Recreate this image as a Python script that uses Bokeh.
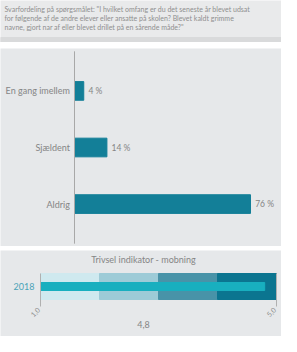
import math
from bokeh.plotting import figure
from bokeh.layouts import column
from bokeh.models import FactorRange, Range1d, Spacer
from bokeh.core.properties import value
from bokeh.embed import file_html
from bokeh.resources import INLINE

# ---- data ----
question_lines = [
    'Svarfordeling på spørgsmålet: "I hvilket omfang er du det seneste år blevet udsat',
    'for følgende af de andre elever eller ansatte på skolen? Blevet kaldt grimme',
    'navne, gjort nar af eller blevet drillet på en sårende måde?"',
]
categories = ["Aldrig", "Sjældent", "En gang imellem"]
percents = [76, 14, 4]

bullet_title = "Trivsel indikator - mobning"
bullet_year = "2018"
band_starts = [1, 2, 3, 4]
band_ends = [2, 3, 4, 5]
band_colors = ["#cfe9ef", "#9dcbd7", "#4893a8", "#0b7590"]
score = 4.8
scale_ticks = [1, 5]
scale_tick_labels = ["1,0", "5,0"]

FONT = "Lato"
W = 281
PANEL = "#e6e8ea"
TXT = "#8f8f8f"
LBL = "#858585"


def base(h, xr, yr, bg):
    f = figure(width=W, height=h, output_backend="svg", toolbar_location=None,
               x_range=xr, y_range=yr, min_border=0,
               background_fill_color=bg, border_fill_color=bg)
    f.axis.visible = False
    f.grid.visible = False
    f.outline_line_color = None
    return f


# ---- question box ----
tb = base(42, Range1d(0, W), Range1d(0, 42), "#e9eaeb")
tb.quad(left=0, right=W, bottom=0, top=5, color="#d9dadb")
tb.text(x=[4, 4, 4], y=[34, 25, 16], text=question_lines, text_font=value(FONT),
        text_font_size="7px", text_color=TXT, text_baseline="middle")

# ---- bar chart ----
BH = 198
left_px = 74
ppu = 176 / 76.0  # pixels per percent
yr = FactorRange(*categories, range_padding=0.25, range_padding_units="absolute")
bp = base(BH, Range1d(-left_px / ppu, (W - left_px) / ppu), yr, PANEL)
bp.hbar(y=categories, right=percents, left=0, height=0.33, color="#137f98")
bp.text(x=[v + 2 for v in percents], y=categories, text=[f"{v} %" for v in percents],
        text_font=value(FONT), text_font_size="8.5px", text_color=LBL,
        text_baseline="middle")
bp.text(x=[-2] * len(categories), y=categories, text=categories,
        text_font=value(FONT), text_font_size="9px", text_color=LBL,
        text_baseline="middle", text_align="right")
bp.segment(x0=[0], x1=[0], y0=[(categories[0], -0.7)], y1=[(categories[-1], 0.7)],
           line_color="#a8a8a8", line_width=1)

# ---- bullet chart ----
BLH = 86
u = 59.0  # pixels per unit
x0px = 40
bx = Range1d(1 - x0px / u, 5 + (W - x0px - 4 * u) / u)
bl = base(BLH, bx, Range1d(0, BLH), PANEL)


def px2x(px):
    return 1 + (px - x0px) / u


bar_top, bar_bot = BLH - 23, BLH - 49
mid = (bar_top + bar_bot) / 2
bl.quad(left=band_starts, right=band_ends, bottom=bar_bot, top=bar_top, color=band_colors)
bl.quad(left=[1], right=[score], bottom=mid - 4, top=mid + 4, color="#18afbf")
bl.segment(x0=scale_ticks, x1=scale_ticks, y0=[bar_bot - 7] * 2, y1=[bar_top] * 2,
           line_color="#b0b0b0", line_width=1)
bl.text(x=[t - 2 / u for t in scale_ticks], y=[bar_bot - 9] * 2, text=scale_tick_labels,
        angle=math.pi / 4, text_align="right", text_baseline="middle",
        text_font=value(FONT), text_font_size="7px", text_color=TXT)
bl.text(x=[1 - 6 / u], y=[mid], text=[bullet_year], text_align="right",
        text_baseline="middle", text_font=value(FONT), text_font_size="9px",
        text_color="#4aa3b8")
bl.text(x=[px2x(143)], y=[BLH - 9], text=[bullet_title], text_align="center",
        text_baseline="middle", text_font=value(FONT), text_font_size="9px",
        text_color=LBL)
bl.text(x=[px2x(143)], y=[BLH - 74], text=[f"{score:.1f}".replace(".", ",")],
        text_align="center", text_baseline="middle", text_font=value(FONT),
        text_font_size="9px", text_color=LBL)

layout = column(tb, Spacer(height=6), bp, Spacer(height=4), bl, spacing=0)
open("out.html", "w").write(file_html(layout, INLINE))
